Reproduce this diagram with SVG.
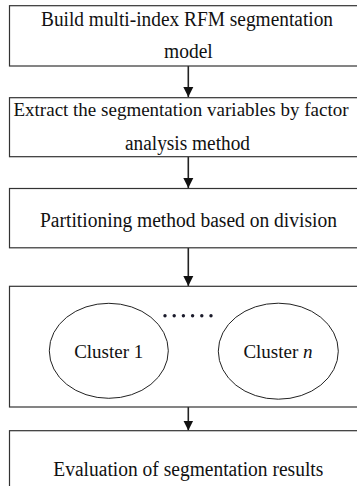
<svg xmlns="http://www.w3.org/2000/svg" width="357" height="486" viewBox="0 0 357 486">
<style>
.box{fill:#ffffff;stroke:#333333;stroke-width:1.2}
.ell{fill:#ffffff;stroke:#222222;stroke-width:1}
.t{font-family:"Liberation Serif","Times New Roman",serif;font-size:20.5px;fill:#111111}
.c{font-family:"Liberation Serif","Times New Roman",serif;font-size:19px;fill:#111111;text-anchor:middle}
.arr{stroke:#222222;stroke-width:1.6;fill:none;marker-end:url(#ah)}
</style>
<defs>
<marker id="ah" markerUnits="userSpaceOnUse" markerWidth="12" markerHeight="12" viewBox="0 0 12 12" refX="10" refY="6" orient="auto">
<path d="M0,1 L10,6 L0,11 Z" fill="#111111"/>
</marker>
</defs>
<rect width="357" height="486" fill="#ffffff"/>
<g id="connectors">
<line class="arr" x1="188.3" y1="66" x2="188.3" y2="97"/>
<line class="arr" x1="188.3" y1="157" x2="188.3" y2="188"/>
<line class="arr" x1="188.3" y1="248" x2="188.3" y2="286"/>
<line class="arr" x1="188.3" y1="407" x2="188.3" y2="430.5"/>
</g>
<g id="n1">
<rect class="box" x="9.5" y="5.7" width="357" height="60.3"/>
<text class="t" x="41" y="26" textLength="292" lengthAdjust="spacingAndGlyphs">Build multi-index RFM segmentation</text>
<text class="t" x="164" y="58.3" textLength="48.7" lengthAdjust="spacingAndGlyphs">model</text>
</g>
<g id="n2">
<rect class="box" x="9.5" y="97.7" width="357" height="59"/>
<text class="c" x="181" y="116">Extract the segmentation variables by factor</text>
<text class="t" x="125" y="150" textLength="125" lengthAdjust="spacingAndGlyphs">analysis method</text>
</g>
<g id="n3">
<rect class="box" x="9.5" y="188.5" width="357" height="59.3"/>
<text class="t" x="40" y="227.3" textLength="297" lengthAdjust="spacingAndGlyphs">Partitioning method based on division</text>
</g>
<g id="n4">
<rect class="box" x="9.5" y="286.3" width="357" height="120.7"/>
<g fill="#1a1a2a">
<circle cx="165" cy="315.7" r="1.7"/>
<circle cx="174.2" cy="315.7" r="1.7"/>
<circle cx="183.4" cy="315.7" r="1.7"/>
<circle cx="192.6" cy="315.7" r="1.7"/>
<circle cx="201.8" cy="315.7" r="1.7"/>
<circle cx="211" cy="315.7" r="1.7"/>
</g>
</g>
<g id="c1">
<ellipse class="ell" cx="108.8" cy="350.8" rx="59.5" ry="47.5"/>
<text class="c" x="108.7" y="358">Cluster 1</text>
</g>
<g id="cn">
<ellipse class="ell" cx="278.3" cy="351.2" rx="60" ry="48"/>
<text class="c" x="278" y="358">Cluster <tspan font-style="italic">n</tspan></text>
</g>
<g id="n5">
<rect class="box" x="9.5" y="430.7" width="357" height="62"/>
<text class="t" x="53.3" y="476" textLength="270" lengthAdjust="spacingAndGlyphs">Evaluation of segmentation results</text>
</g>
</svg>
